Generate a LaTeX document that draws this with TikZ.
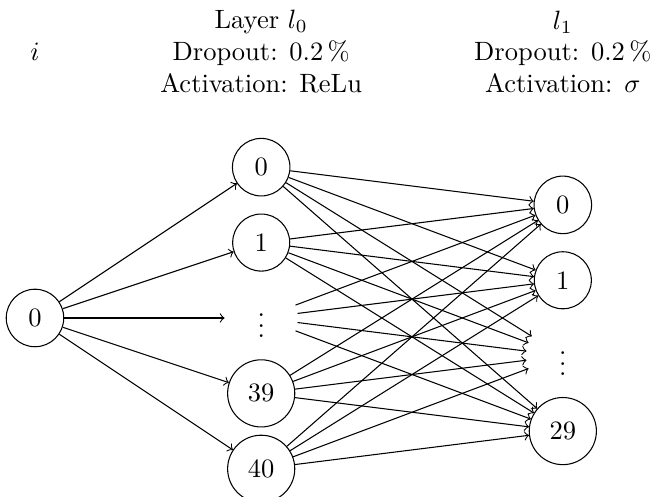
\documentclass[tikz,border=0pt]{standalone}
\begin{document}
\begin{tikzpicture}[
  neuron/.style={circle, draw, inner sep=4.7pt},
  dotsnode/.style={circle, inner sep=4.7pt},
  lbl/.style={align=center},
  conn/.style={->}
]
\useasboundingbox (-0.464,-2.361) rectangle (8.196,4.217);
% input layer
\node[neuron] (I0) at (0,0) {0};
% hidden layer
\node[neuron]   (H0) at (3,2)  {0};
\node[neuron]   (H1) at (3,1)  {1};
\node[dotsnode] (H2) at (3,0)  {$\vdots$};
\node[neuron]   (H3) at (3,-1) {39};
\node[neuron]   (H4) at (3,-2) {40};
% output layer
\node[neuron]   (O0) at (7,1.5)  {0};
\node[neuron]   (O1) at (7,0.5)  {1};
\node[dotsnode] (O2) at (7,-0.5) {$\vdots$};
\node[neuron]   (O3) at (7,-1.5) {29};
% labels
\node[lbl] (Li) at (0,3.53) {$i$};
\node[lbl] (L0) at (3,3.53) {Layer $l_0$\\Dropout: 0.2\,\%\\Activation: ReLu};
\node[lbl] (L1) at (7,3.53) {$l_1$\\Dropout: 0.2\,\%\\Activation: $\sigma$};
% connections
\foreach \h in {H0,H1,H2,H3,H4}
  \draw[conn] (I0) -- (\h);
\foreach \h in {H0,H1,H2,H3,H4}
  \foreach \o in {O0,O1,O2,O3}
    \draw[conn] (\h) -- (\o);
\end{tikzpicture}
\end{document}
